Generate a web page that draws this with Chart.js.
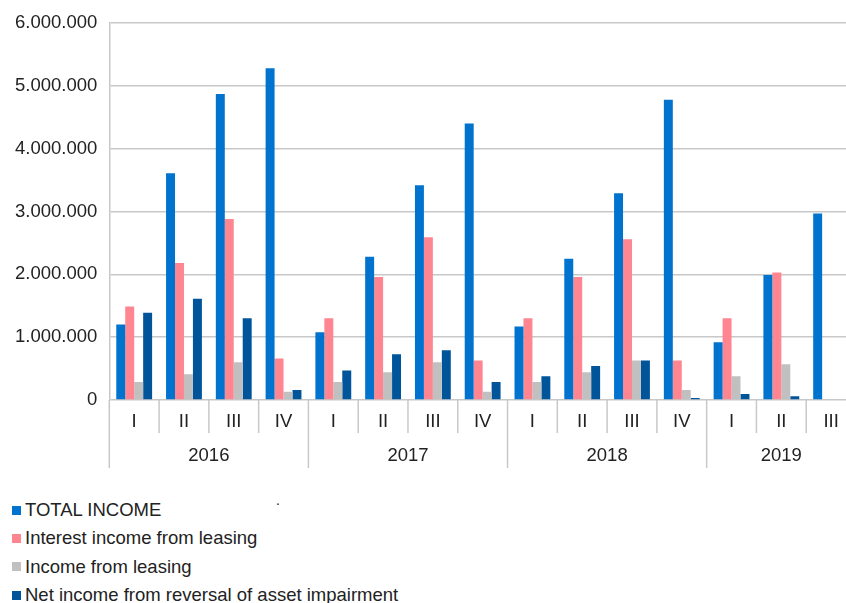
<!DOCTYPE html>
<html>
<head>
<meta charset="utf-8">
<script src="https://cdn.jsdelivr.net/npm/chart.js@4"></script>
<style>
  html, body { margin: 0; padding: 0; background: #fff; overflow: hidden; }
  #wrap { position: relative; width: 856px; height: 603px; }
  #chart-box { position: absolute; left: 0; top: 0; width: 856px; height: 480px; }
  #legend { position: absolute; left: 12px; top: 496px; font: 18.5px "Liberation Sans", Arial, sans-serif; color: #222; }
  .item { height: 28.3px; display: flex; align-items: center; white-space: nowrap; }
  .swatch { width: 9px; height: 9px; margin-right: 4px; flex: none; }
  #dot { position: absolute; left: 276px; top: 492px; font: 14px "Liberation Sans", Arial, sans-serif; color: #222; }
</style>
</head>
<body>
<div id="wrap">
  <div id="chart-box"><canvas id="income-chart"></canvas></div>
  <div id="legend"></div>
  <div id="dot">.</div>
</div>
<script>
// 四半期ラベルと年
const QUARTERS = ["I", "II", "III", "IV", "I", "II", "III", "IV", "I", "II", "III", "IV", "I", "II", "III"];
const YEARS = ["2016", "2017", "2018", "2019"];
const YEAR_SIZES = [4, 4, 4, 3];

// 系列名と色
const SERIES_NAMES = [
  "TOTAL INCOME",
  "Interest income from leasing",
  "Income from leasing",
  "Net income from reversal of asset impairment",
];
const SERIES_COLORS = ["#0073cf", "#ff8591", "#c0c0c0", "#00549a"];

// 値
const TOTAL_INCOME = [1200000, 3610000, 4870000, 5280000, 1080000, 2280000, 3420000, 4400000, 1170000, 2250000, 3290000, 4780000, 920000, 1990000, 2970000];
const INTEREST_INCOME = [1490000, 2180000, 2880000, 660000, 1300000, 1960000, 2590000, 630000, 1300000, 1960000, 2560000, 630000, 1300000, 2030000, null];
const LEASING_INCOME = [285000, 410000, 600000, 130000, 285000, 440000, 600000, 130000, 285000, 440000, 630000, 160000, 380000, 570000, null];
const NET_REVERSAL = [1390000, 1610000, 1300000, 160000, 470000, 730000, 790000, 285000, 380000, 540000, 630000, 30000, 95000, 60000, null];

const Y_TICK_STEP = 1000000;
const Y_MAX = 6000000;

const FONT = "\"Liberation Sans\", Arial, sans-serif";
const FONT_SIZE = 18.5;
const TEXT_COLOR = "#222";
const LINE_COLOR = "#c8c8c8";

/** 3桁ごとにドット区切り */
function formatNumber(v) {
  return String(v).replace(/\B(?=(\d{3})+(?!\d))/g, ".");
}

/** 四半期と年の2段ラベルを描くプラグイン */
const groupedAxis = {
  id: "groupedAxis",
  afterDraw(chart) {
    const ctx = chart.ctx;
    const x = chart.scales.x;
    const bottom = chart.chartArea.bottom;
    const step = x.getPixelForValue(1) - x.getPixelForValue(0);
    const yearStarts = [];
    let acc = 0;
    YEAR_SIZES.forEach((n) => { yearStarts.push(acc); acc += n; });

    ctx.save();
    ctx.strokeStyle = LINE_COLOR;
    ctx.lineWidth = 1.5;
    for (let i = 0; i <= QUARTERS.length; i++) {
      const px = x.getPixelForValue(i) - step / 2;
      const len = yearStarts.includes(i) || i === QUARTERS.length ? 68 : 33;
      ctx.beginPath();
      ctx.moveTo(px, bottom);
      ctx.lineTo(px, bottom + len);
      ctx.stroke();
    }

    ctx.fillStyle = TEXT_COLOR;
    ctx.font = FONT_SIZE + "px " + FONT;
    ctx.textAlign = "center";
    ctx.textBaseline = "middle";
    QUARTERS.forEach((q, i) => {
      ctx.fillText(q, x.getPixelForValue(i), bottom + 22);
    });
    YEARS.forEach((yr, k) => {
      const first = yearStarts[k];
      const last = first + YEAR_SIZES[k] - 1;
      const mid = (x.getPixelForValue(first) + x.getPixelForValue(last)) / 2;
      ctx.fillText(yr, mid, bottom + 56);
    });
    ctx.restore();
  },
};

const seriesData = [TOTAL_INCOME, INTEREST_INCOME, LEASING_INCOME, NET_REVERSAL];

new Chart(document.getElementById("income-chart"), {
  type: "bar",
  data: {
    labels: QUARTERS.map((q, i) => q + "-" + i),
    datasets: SERIES_NAMES.map((name, i) => ({
      label: name,
      data: seriesData[i],
      backgroundColor: SERIES_COLORS[i],
      borderWidth: 0,
      categoryPercentage: 0.72,
      barPercentage: 1.0,
    })),
  },
  options: {
    responsive: true,
    maintainAspectRatio: false,
    animation: false,
    layout: { padding: { left: 3, right: 0, top: 10, bottom: 80 } },
    plugins: {
      legend: { display: false },
      tooltip: { enabled: false },
    },
    scales: {
      x: { display: false },
      y: {
        min: 0,
        max: Y_MAX,
        ticks: {
          stepSize: Y_TICK_STEP,
          color: TEXT_COLOR,
          font: { size: FONT_SIZE, family: FONT },
          padding: 12,
          callback: (v) => formatNumber(v),
        },
        grid: { color: LINE_COLOR, lineWidth: 1.5, drawTicks: false },
        border: { display: true, color: LINE_COLOR, width: 1.5 },
      },
    },
  },
  plugins: [groupedAxis],
});

// 縦並びの凡例
const legendEl = document.getElementById("legend");
SERIES_NAMES.forEach((name, i) => {
  const item = document.createElement("div");
  item.className = "item";
  const sw = document.createElement("span");
  sw.className = "swatch";
  sw.style.background = SERIES_COLORS[i];
  const label = document.createElement("span");
  label.textContent = name;
  item.appendChild(sw);
  item.appendChild(label);
  legendEl.appendChild(item);
});
</script>
</body>
</html>
